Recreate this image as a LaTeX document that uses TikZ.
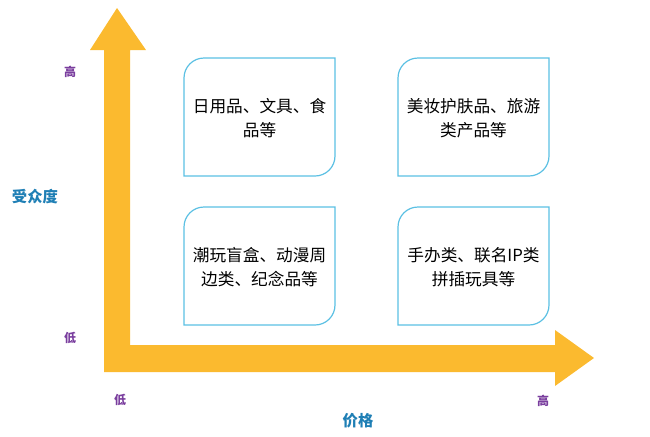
\documentclass[tikz,border=0pt]{standalone}
\usepackage{fontspec}
\setmainfont{Noto Sans CJK SC}
\definecolor{axisyellow}{HTML}{FBBA2F}
\definecolor{boxblue}{HTML}{5BC0E3}
\definecolor{lblblue}{HTML}{1F7FB5}
\definecolor{lblpurple}{HTML}{7A3E9E}
\tikzstyle{quadtext} = [align=center, font=\fontsize{12.5}{18}\selectfont]
\tikzstyle{ticklbl} = [text=lblpurple, font=\fontsize{9}{10}\selectfont\bfseries]
\tikzstyle{axislbl} = [text=lblblue, font=\fontsize{11.5}{13}\selectfont\bfseries]
\newcommand{\quadbox}[4]{%
  \draw[boxblue, line width=0.9pt] (#2,#3+118) [rounded corners=15] -- (#2,#3) [sharp corners] -- (#2+151,#3) -- (#2+151,#3+90) [rounded corners=15] -- (#2+151,#3+118) [sharp corners] -- cycle;
  \node[quadtext] (#1) at (#2+75.5,#3+60) {#4};}
\begin{document}
\begin{tikzpicture}[x=0.75pt,y=-0.75pt]
    \useasboundingbox (0,0) rectangle (650,436);
    % axes
    \fill[axisyellow] (104,372) -- (104,50) -- (90,50) -- (117,8) -- (146,50) -- (130,50) -- (130,345)
        -- (555,345) -- (555,330) -- (594,358) -- (555,386) -- (555,372) -- cycle;
    % quadrants
    \quadbox{daily}{184}{58}{日用品、文具、食\\品等}
    \quadbox{beauty}{398}{58}{美妆护肤品、旅游\\类产品等}
    \quadbox{trendy}{184}{207}{潮玩盲盒、动漫周\\边类、纪念品等}
    \quadbox{figure}{398}{207}{手办类、联名IP类\\拼插玩具等}
    % labels
    \node[ticklbl] (yhigh) at (70,72) {高};
    \node[ticklbl] (ylow) at (70,338) {低};
    \node[axislbl] (ylbl) at (35,197) {受众度};
    \node[ticklbl] (xlow) at (120,400) {低};
    \node[ticklbl] (xhigh) at (543,401) {高};
    \node[axislbl] (xlbl) at (358,421) {价格};
\end{tikzpicture}
\end{document}
